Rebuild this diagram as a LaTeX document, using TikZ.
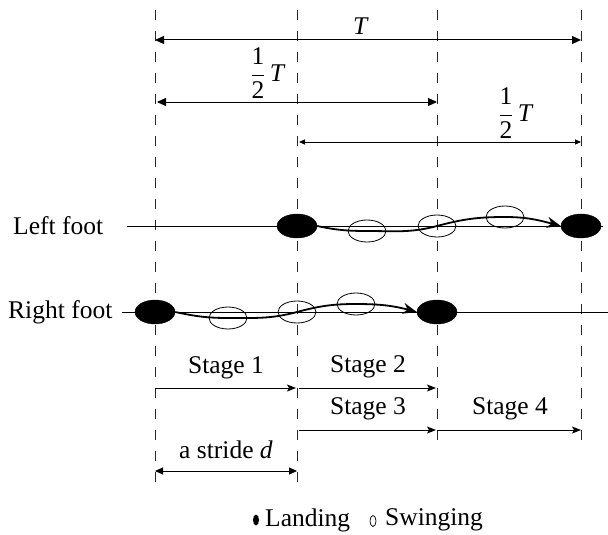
\documentclass[tikz,border=0pt]{standalone}
\usepackage{fontspec}
\setmainfont{Liberation Serif}
\usetikzlibrary{arrows.meta,shapes.geometric}
\begin{document}
\begin{tikzpicture}[x=1pt,y=-1pt,
  font=\fontsize{25.5}{30}\selectfont,
  vdash/.style={draw=black!85,line width=0.9pt,dash pattern=on 10pt off 11pt},
  thin/.style={line width=1pt},
  dimarrow/.style={thin,{Triangle[length=9pt,width=8pt]}-{Triangle[length=9pt,width=8pt]}},
  stagearrow/.style={thin,-{Stealth[length=9pt,width=7pt,inset=2pt]}},
  landing/.style={ellipse,fill=black,draw=black,minimum width=40pt,minimum height=24pt,inner sep=0pt},
  swing/.style={ellipse,draw=black,line width=0.8pt,minimum width=38pt,minimum height=22pt,inner sep=0pt},
  path/.style={line width=1.8pt,-{Stealth[length=14pt,width=11pt]}},
  lbl/.style={inner sep=0pt}]
\useasboundingbox (0,0) rectangle (608,535);
% dashed vertical lines
\coordinate (v1t) at (155,10); \coordinate (v1b) at (155,490);
\coordinate (v2t) at (297,10); \coordinate (v2b) at (297,490);
\coordinate (v3t) at (437,10); \coordinate (v3b) at (437,450);
\coordinate (v4t) at (581,10); \coordinate (v4b) at (581,450);
\draw[vdash] (v1t) -- (v1b);
\draw[vdash] (v2t) -- (v2b);
\draw[vdash] (v3t) -- (v3b);
\draw[vdash] (v4t) -- (v4b);
% T arrows
\coordinate (ta) at (155,40); \coordinate (tb) at (581,40);
\draw[dimarrow] (ta) -- (tb);
\node[lbl] (tl) at (361,26) {\textit{T}};
\coordinate (ha) at (157,102); \coordinate (hb) at (437,102);
\draw[dimarrow] (ha) -- (hb);
\node[lbl] (hl) at (268,73) {$\displaystyle\frac{\mbox{1}}{\mbox{2}}$\,\textit{T}};
\coordinate (h2a) at (299,142); \coordinate (h2b) at (581,142);
\draw[thin,{Triangle[length=6pt,width=5pt]}-{Triangle[length=6pt,width=5pt]}] (h2a) -- (h2b);
\node[lbl] (h2l) at (516,113) {$\displaystyle\frac{\mbox{1}}{\mbox{2}}$\,\textit{T}};
% foot lines
\node[lbl,anchor=west] (lf) at (13,226) {Left foot};
\node[lbl,anchor=west] (rf) at (8,312) {Right foot};
\coordinate (lfs) at (127,226); \coordinate (lfe) at (603,226);
\coordinate (rfs) at (122,312); \coordinate (rfe) at (608,312);
\draw[thin] (lfs) -- (lfe);
\draw[thin] (rfs) -- (rfe);
% left foot
\node[landing] (l1) at (297,226) {};
\node[landing] (l2) at (581,226) {};
\node[swing] (ls1) at (367,231) {};
\node[swing] (ls2) at (437,226) {};
\node[swing] (ls3) at (505,217) {};
\draw[path] (l1.east) to[out=-12,in=180] (ls1.center) to[out=0,in=195] (ls2.center) to[out=15,in=180] (ls3.center) to[out=0,in=165] (l2.west);
% right foot
\node[landing] (r1) at (155,312) {};
\node[landing] (r2) at (437,312) {};
\node[swing] (rs1) at (228,318) {};
\node[swing] (rs2) at (297,312) {};
\node[swing] (rs3) at (356,304) {};
\draw[path] (r1.east) to[out=-12,in=180] (rs1.center) to[out=0,in=195] (rs2.center) to[out=15,in=180] (rs3.center) to[out=0,in=165] (r2.west);
% stages
\coordinate (s1a) at (155,388); \coordinate (s1b) at (296,388);
\coordinate (s2a) at (299,388); \coordinate (s2b) at (436,388);
\coordinate (s3a) at (299,430); \coordinate (s3b) at (436,430);
\coordinate (s4a) at (437,430); \coordinate (s4b) at (581,430);
\draw[stagearrow] (s1a) -- (s1b);
\draw[stagearrow] (s2a) -- (s2b);
\draw[stagearrow] (s3a) -- (s3b);
\draw[stagearrow] (s4a) -- (s4b);
\node[lbl] (st1) at (226,368) {Stage 1};
\node[lbl] (st2) at (368,367) {Stage 2};
\node[lbl] (st3) at (368,409) {Stage 3};
\node[lbl] (st4) at (510,409) {Stage 4};
% stride
\coordinate (da) at (155,471); \coordinate (db) at (297,471);
\draw[thin,{Triangle[length=8pt,width=7pt]}-{Triangle[length=8pt,width=7pt]}] (da) -- (db);
\node[lbl] (dl) at (226,450) {a stride \textit{d}};
% legend
\node[ellipse,fill=black,minimum width=6pt,minimum height=11pt,inner sep=0pt] (lgl) at (256,520) {};
\node[lbl,anchor=west] (lgt) at (265,520) {Landing};
\node[ellipse,draw=black,line width=0.7pt,minimum width=6pt,minimum height=11pt,inner sep=0pt] (lgs) at (373,521) {};
\node[lbl,anchor=west] (lgt2) at (385,520) {Swinging};
\end{tikzpicture}
\end{document}
